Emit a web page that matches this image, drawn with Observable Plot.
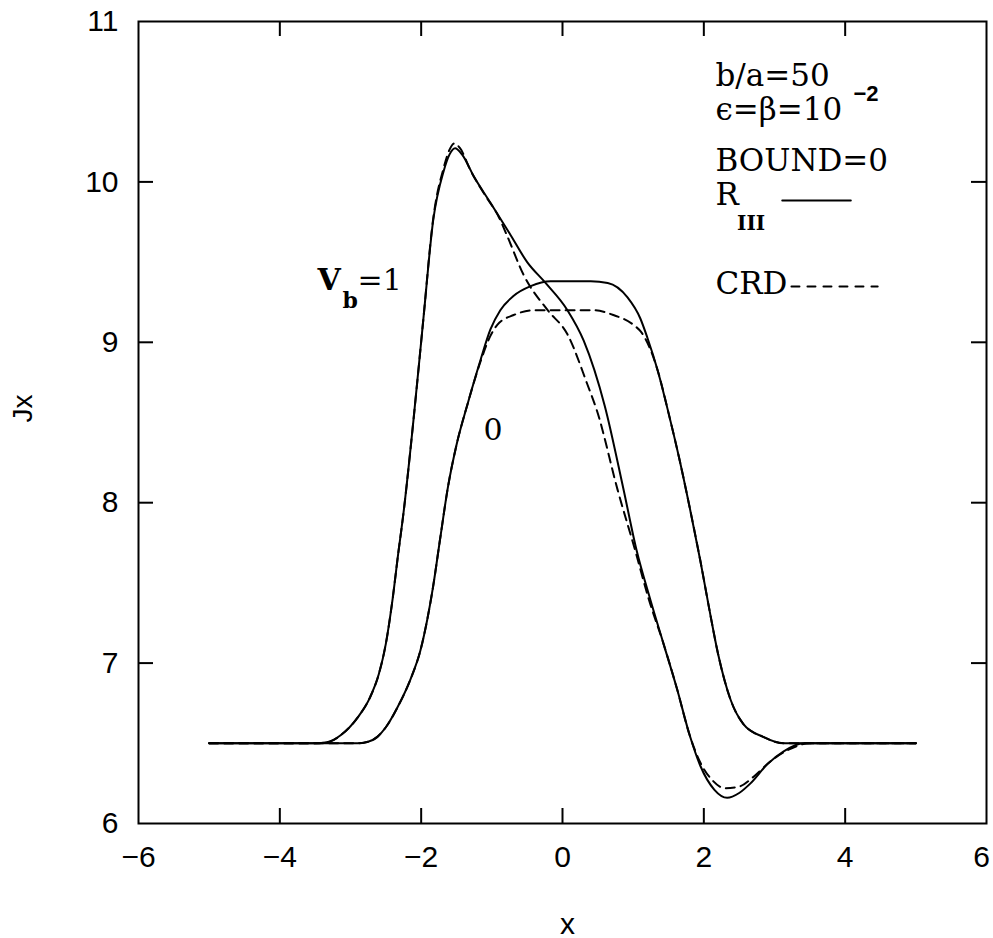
<!DOCTYPE html>
<html>
<head>
<meta charset="utf-8">
<script src="https://cdn.jsdelivr.net/npm/d3@7"></script>
<script src="https://cdn.jsdelivr.net/npm/@observablehq/plot@0.6"></script>
<style>
  html, body { margin: 0; padding: 0; background: #fff; }
  #chart svg { display: block; }
</style>
</head>
<body>
<div id="chart"></div>
<script>
// ---- tick labels ----
const xTicks = [-6, -4, -2, 0, 2, 4, 6];
const yTicks = [6, 7, 8, 9, 10, 11];

// ---- Vb = 1, R_III (solid) ----
const xA = [-5, -4, -3.5, -3.3, -3.14, -2.9, -2.72, -2.6, -2.5, -2.41, -2.32, -2.26, -2.11, -1.97, -1.83, -1.68, -1.6, -1.52, -1.42, -1.25, -1.02, -0.75, -0.5, -0.24, 0.07, 0.3, 0.6, 0.86, 1.05, 1.24, 1.43, 1.62, 1.8, 1.95, 2.15, 2.33, 2.5, 2.66, 2.9, 3.13, 3.41, 4, 5];
const yA = [6.5, 6.5, 6.5, 6.51, 6.55, 6.66, 6.79, 6.93, 7.12, 7.38, 7.70, 7.90, 8.51, 9.14, 9.76, 10.07, 10.17, 10.21, 10.17, 10.03, 9.87, 9.68, 9.50, 9.37, 9.20, 9.01, 8.60, 8.09, 7.70, 7.40, 7.12, 6.84, 6.55, 6.36, 6.21, 6.16, 6.19, 6.25, 6.37, 6.45, 6.50, 6.5, 6.5];

// ---- Vb = 1, CRD (dashed) ----
const xB = [-5, -4, -3.5, -3.3, -3.14, -2.9, -2.72, -2.6, -2.5, -2.41, -2.32, -2.26, -2.11, -1.97, -1.83, -1.68, -1.6, -1.53, -1.45, -1.3, -1.1, -0.9, -0.78, -0.55, -0.21, 0.07, 0.35, 0.49, 0.78, 1.03, 1.22, 1.43, 1.62, 1.8, 1.95, 2.12, 2.3, 2.5, 2.7, 2.95, 3.2, 3.5, 4, 5];
const yB = [6.5, 6.5, 6.5, 6.51, 6.55, 6.66, 6.79, 6.93, 7.12, 7.38, 7.70, 7.90, 8.51, 9.14, 9.77, 10.09, 10.20, 10.24, 10.21, 10.07, 9.92, 9.78, 9.66, 9.42, 9.20, 9.05, 8.74, 8.57, 8.08, 7.70, 7.40, 7.12, 6.84, 6.55, 6.38, 6.27, 6.22, 6.23, 6.29, 6.39, 6.46, 6.50, 6.5, 6.5];

// ---- Vb = 0, R_III (solid) ----
const xC = [-5, -4, -3.5, -2.9, -2.75, -2.62, -2.5, -2.34, -2.15, -2.01, -1.91, -1.83, -1.73, -1.62, -1.5, -1.34, -1.16, -1.02, -0.88, -0.69, -0.45, -0.17, 0.16, 0.4, 0.64, 0.92, 1.10, 1.20, 1.35, 1.5, 1.65, 1.8, 1.95, 2.08, 2.2, 2.38, 2.56, 2.84, 3.13, 3.5, 4, 5];
const yC = [6.5, 6.5, 6.5, 6.50, 6.51, 6.54, 6.60, 6.72, 6.90, 7.08, 7.28, 7.48, 7.78, 8.10, 8.36, 8.62, 8.89, 9.08, 9.20, 9.29, 9.35, 9.38, 9.38, 9.38, 9.37, 9.28, 9.15, 9.03, 8.82, 8.56, 8.28, 7.97, 7.64, 7.33, 7.06, 6.77, 6.62, 6.54, 6.50, 6.5, 6.5, 6.5];

// ---- Vb = 0, CRD (dashed) ----
const xD = [-5, -4, -3.5, -2.9, -2.75, -2.62, -2.5, -2.34, -2.15, -2.01, -1.91, -1.83, -1.73, -1.62, -1.5, -1.34, -1.16, -1.02, -0.92, -0.69, -0.4, 0.0, 0.44, 0.72, 1.00, 1.12, 1.22, 1.35, 1.5, 1.65, 1.8, 1.95, 2.08, 2.2, 2.38, 2.56, 2.84, 3.13, 3.5, 4, 5];
const yD = [6.5, 6.5, 6.5, 6.50, 6.51, 6.54, 6.60, 6.72, 6.90, 7.08, 7.28, 7.48, 7.78, 8.10, 8.36, 8.62, 8.88, 9.04, 9.11, 9.17, 9.20, 9.20, 9.20, 9.17, 9.11, 9.06, 8.98, 8.82, 8.56, 8.28, 7.97, 7.64, 7.33, 7.06, 6.77, 6.62, 6.54, 6.50, 6.5, 6.5, 6.5];

// ---- annotation texts (data coordinates) ----
const noteText = ["b/a=50", "\u03f5=\u03b2=10", "BOUND=0", "R", "CRD"];
const noteX = [2.165, 2.165, 2.165, 2.165, 2.165];
const noteY = [10.60, 10.383, 10.071, 9.853, 9.304];
const supText = ["\u22122"], supX = [4.117], supY = [10.507];
const subText = ["III"], subX = [2.47], subY = [9.70];
const legendSolidX = [3.11, 4.08], legendSolidY = [9.884, 9.884];
const legendDashX = [3.24, 4.46], legendDashY = [9.348, 9.348];
const curveLabelText = ["V", "b", "=1", "0"];
const curveLabelX = [-3.467, -3.113, -2.90, -1.118];
const curveLabelY = [9.323, 9.211, 9.323, 8.388];
const curveLabelBold = [true, true, false, false];
const curveLabelSize = [30, 22, 30, 30];

// ---- build tables ----
const rows = (name, xs, ys) => xs.map((x, i) => ({series: name, x, y: ys[i]}));
const solidRows = [...rows("Vb=1 RIII", xA, yA), ...rows("Vb=0 RIII", xC, yC)];
const dashRows = [...rows("Vb=1 CRD", xB, yB), ...rows("Vb=0 CRD", xD, yD)];
const notes = noteText.map((t, i) => ({t, x: noteX[i], y: noteY[i]}));
const curveLabels = curveLabelText.map((t, i) => ({t, x: curveLabelX[i], y: curveLabelY[i], bold: curveLabelBold[i], size: curveLabelSize[i]}));

const W = 993, H = 938, mL = 138, mR = 7, mT = 21, mB = 115;
const frameH = H - mT - mB;
const frameW = W - mL - mR;
const tickLen = 15;
const fmt = d => d < 0 ? "\u2212" + Math.abs(d) : String(d);
const sans = "'Liberation Sans', Arial, sans-serif";
const serif = "'DejaVu Serif', serif";

const chart = Plot.plot({
  width: W, height: H,
  marginLeft: mL, marginRight: mR, marginTop: mT, marginBottom: mB,
  style: {background: "#fff", color: "#000"},
  x: {domain: [-6, 6]},
  y: {domain: [6, 11]},
  marks: [
    Plot.frame({stroke: "#000", strokeWidth: 2}),
    Plot.axisX({ticks: xTicks.slice(0, -1), tickSize: 0, tickPadding: 22, tickFormat: fmt, fontSize: 30, fontFamily: sans, label: null}),
    Plot.axisX({ticks: xTicks.slice(-1), tickSize: 0, tickPadding: 22, tickFormat: fmt, fontSize: 30, fontFamily: sans, label: null, dx: -5}),
    Plot.axisY({ticks: yTicks, tickSize: 0, tickPadding: 20, tickFormat: fmt, fontSize: 30, fontFamily: sans, label: null}),
    // inward ticks on all four sides
    Plot.tickX(xTicks.slice(1, -1), {x: d => d, insetTop: frameH - tickLen, stroke: "#000", strokeWidth: 2}),
    Plot.tickX(xTicks.slice(1, -1), {x: d => d, insetBottom: frameH - tickLen, stroke: "#000", strokeWidth: 2}),
    Plot.tickY(yTicks.slice(1, -1), {y: d => d, insetRight: frameW - tickLen, stroke: "#000", strokeWidth: 2}),
    Plot.tickY(yTicks.slice(1, -1), {y: d => d, insetLeft: frameW - tickLen, stroke: "#000", strokeWidth: 2}),
    // axis titles
    Plot.text(["x"], {frameAnchor: "bottom", dy: 110, dx: 5, lineAnchor: "bottom", fontSize: 30, fontFamily: sans}),
    Plot.text(["Jx"], {frameAnchor: "left", dx: -115, rotate: -90, fontSize: 28, fontFamily: sans}),
    // curves
    Plot.line(solidRows, {x: "x", y: "y", z: "series", curve: "monotone-x", stroke: "#000", strokeWidth: 2}),
    Plot.line(dashRows, {x: "x", y: "y", z: "series", curve: "monotone-x", stroke: "#000", strokeWidth: 2, strokeDasharray: "9,6"}),
    // annotations
    Plot.text(notes, {x: "x", y: "y", text: "t", textAnchor: "start", lineAnchor: "bottom", fontSize: 31, fontFamily: serif}),
    Plot.text(supText, {x: supX, y: supY, text: d => d, textAnchor: "start", lineAnchor: "bottom", fontSize: 22, fontWeight: "bold", fontFamily: sans}),
    Plot.text(subText, {x: subX, y: subY, text: d => d, textAnchor: "start", lineAnchor: "bottom", fontSize: 20, fontWeight: "bold", fontFamily: serif}),
    Plot.line(legendSolidX.map((x, i) => ({x, y: legendSolidY[i]})), {x: "x", y: "y", stroke: "#000", strokeWidth: 2}),
    Plot.line(legendDashX.map((x, i) => ({x, y: legendDashY[i]})), {x: "x", y: "y", stroke: "#000", strokeWidth: 2, strokeDasharray: "8,8"}),
    Plot.text(curveLabels.filter(d => d.bold), {x: "x", y: "y", text: "t", textAnchor: "start", lineAnchor: "bottom", fontSize: "size", fontWeight: "bold", fontFamily: serif}),
    Plot.text(curveLabels.filter(d => !d.bold), {x: "x", y: "y", text: "t", textAnchor: "start", lineAnchor: "bottom", fontSize: 30, fontFamily: serif})
  ]
});
document.getElementById("chart").appendChild(chart);
</script>
</body>
</html>
